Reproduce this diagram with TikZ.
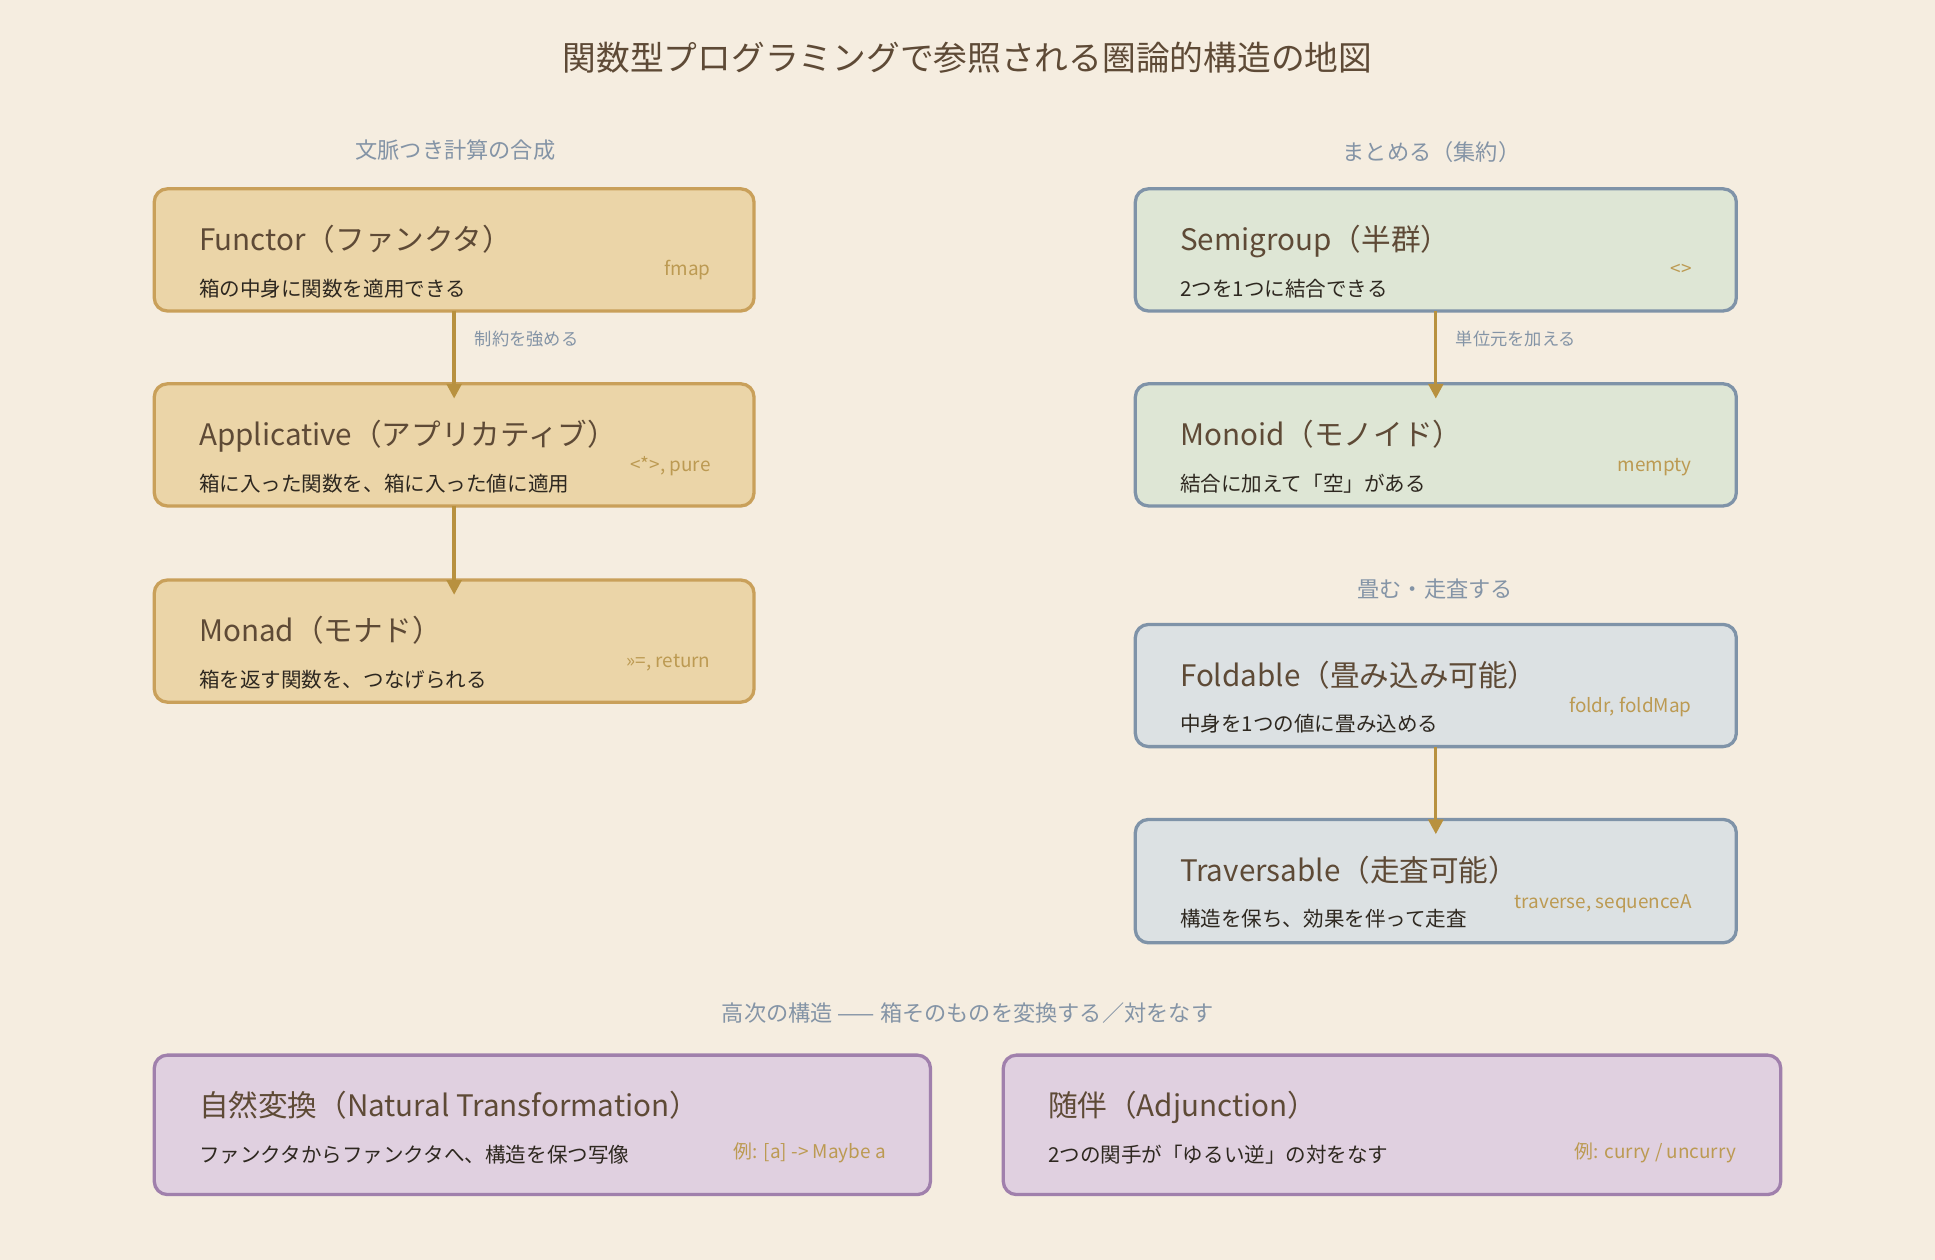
\documentclass[tikz,border=0pt]{standalone}
\usepackage{fontspec}
\setmainfont{Noto Sans CJK JP}
\usetikzlibrary{arrows.meta}
\definecolor{bg}{HTML}{F5EDE0}
\definecolor{ink}{HTML}{5E4A36}
\definecolor{sub}{HTML}{2E2820}
\definecolor{lab}{HTML}{BC9A52}
\definecolor{head}{HTML}{8494A6}
\definecolor{arr}{HTML}{B8913F}
\definecolor{af}{HTML}{EBD5A8}\definecolor{ab}{HTML}{C9A05A}
\definecolor{gf}{HTML}{DEE6D5}\definecolor{gb}{HTML}{7F93A8}
\definecolor{bf}{HTML}{DCE1E3}\definecolor{bb}{HTML}{7F93A8}
\definecolor{pf}{HTML}{E0D0E0}\definecolor{pb}{HTML}{A080AC}
\begin{document}
\begin{tikzpicture}[x=0.75pt,y=-0.75pt,
  box/.style={draw=#1,line width=2pt,rounded corners=8pt},
  ttl/.style={anchor=base west,font=\fontsize{18}{20}\selectfont,text=ink,inner sep=0},
  sbt/.style={anchor=base west,font=\fontsize{12.5}{14}\selectfont,text=sub,inner sep=0},
  lbl/.style={anchor=base east,font=\fontsize{11.5}{13}\selectfont,text=lab,inner sep=0},
  hd/.style={font=\fontsize{13.5}{15}\selectfont,text=head},
  elab/.style={anchor=west,font=\fontsize{10.5}{12}\selectfont,text=head},
  ar/.style={draw=arr,line width=2pt,-{Triangle[length=9pt,width=9pt]}}]
\fill[bg] (0,0) rectangle (1568,1021);
\useasboundingbox (0,0) rectangle (1568,1021);
\node[font=\fontsize{20.5}{22}\selectfont,text=ink] (title) at (784,47) {関数型プログラミングで参照される圏論的構造の地図};
\node[hd] (h1) at (369,122) {文脈つき計算の合成};
\node[hd] (h2) at (1160,123) {まとめる（集約）};
\node[hd] (h3) at (1163,477) {畳む・走査する};
\node[hd] (h4) at (784,821) {高次の構造 —— 箱そのものを変換する／対をなす};
% #1 name, #2 border, #3 fill, #4 x1, #5 y1, #6 height, #7 x2, #8 title, #9 subtitle
\newcommand{\cbox}[9]{%
  \draw[box=#2,fill=#3] (#4,#5) rectangle (#7,#5+#6);
  \node[inner sep=0] (#1) at ({(#4+#7)/2},{#5+#6/2}) {};
  \coordinate (#1n) at ({(#4+#7)/2},#5);
  \coordinate (#1s) at ({(#4+#7)/2},#5+#6);
  \node[ttl] (#1t) at (#4+36,#5+50) {#8};
  \node[sbt] (#1b) at (#4+36,#5+87) {#9};}
\cbox{fun}{ab}{af}{125}{153}{99}{611}{Functor（ファンクタ）}{箱の中身に関数を適用できる}
\node[lbl] (funl) at (576,223) {fmap};
\cbox{app}{ab}{af}{125}{311}{99}{611}{Applicative（アプリカティブ）}{箱に入った関数を、箱に入った値に適用}
\node[lbl] (appl) at (576,382) {<*>, pure};
\cbox{mon}{ab}{af}{125}{470}{99}{611}{Monad（モナド）}{箱を返す関数を、つなげられる}
\node[lbl] (monl) at (576,541) {>>=, return};
\cbox{sem}{gb}{gf}{920}{153}{99}{1407}{Semigroup（半群）}{2つを1つに結合できる}
\node[lbl] (seml) at (1371,223) {<>};
\cbox{mnd}{gb}{gf}{920}{311}{99}{1407}{Monoid（モノイド）}{結合に加えて「空」がある}
\node[lbl] (mndl) at (1371,382) {mempty};
\cbox{fol}{bb}{bf}{920}{506}{99}{1407}{Foldable（畳み込み可能）}{中身を1つの値に畳み込める}
\node[lbl] (foll) at (1371,577) {foldr, foldMap};
\cbox{tra}{bb}{bf}{920}{664}{100}{1407}{Traversable（走査可能）}{構造を保ち、効果を伴って走査}
\node[lbl] (tral) at (1371,736) {traverse, sequenceA};
\cbox{nat}{pb}{pf}{125}{855}{113}{754}{自然変換（Natural Transformation）}{ファンクタからファンクタへ、構造を保つ写像}
\node[lbl] (natl) at (718,939) {例: [a] -> Maybe a};
\cbox{adj}{pb}{pf}{813}{855}{113}{1443}{随伴（Adjunction）}{2つの関手が「ゆるい逆」の対をなす}
\node[lbl] (adjl) at (1407,939) {例: curry / uncurry};
\draw[ar] (funs) -- ([yshift=-9]appn);
\draw[ar] (apps) -- ([yshift=-9]monn);
\draw[ar] (sems) -- ([yshift=-9]mndn);
\draw[ar] (fols) -- ([yshift=-9]tran);
\node[elab] (e1) at (380,275) {制約を強める};
\node[elab] (e2) at (1175,275) {単位元を加える};
\end{tikzpicture}
\end{document}
